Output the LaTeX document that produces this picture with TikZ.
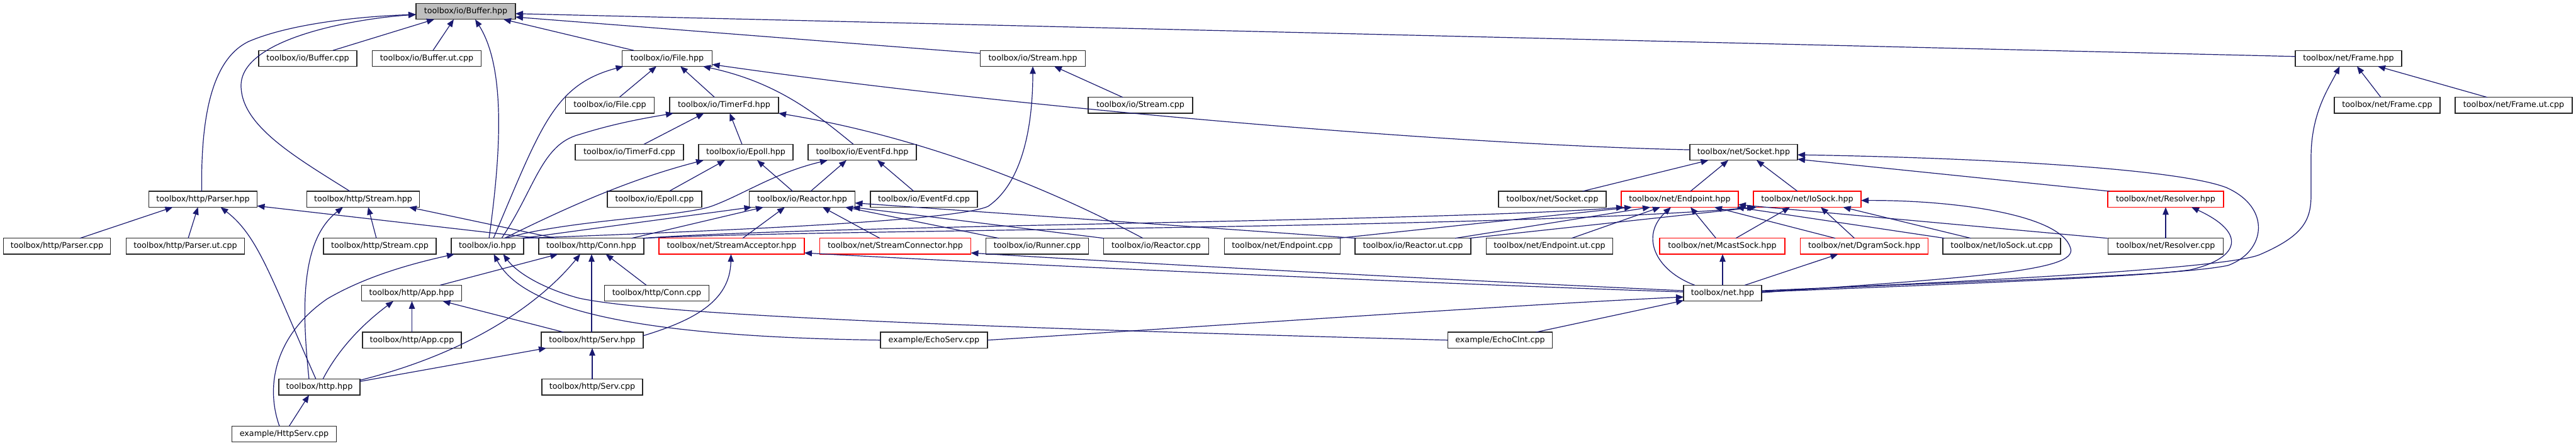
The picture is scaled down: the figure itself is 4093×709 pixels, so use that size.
\documentclass[tikz,border=0pt]{standalone}
\usepackage{fontspec}
\setmainfont{DejaVu Sans}
\usetikzlibrary{arrows.meta}
\definecolor{edgec}{HTML}{191970}
\definecolor{boxgray}{HTML}{BFBFBF}
\begin{document}
\begin{tikzpicture}[x=1pt,y=-1pt,
 filebox/.style={draw=black!85, line width=1.3pt, fill=white, minimum height=25.3pt, inner sep=0pt, outer sep=0pt, font=\fontsize{12.7}{15}\selectfont},
 redbox/.style={filebox, draw=red},
 graybox/.style={filebox, fill=boxgray},
 dep/.style={draw=edgec, line width=1.2pt, -{Triangle[length=12pt,width=9.5pt]}}]
\useasboundingbox[fill=white] (0,0) rectangle (4093,709);
% row 0
\node[graybox, minimum width=158pt] (buf) at (740,18.1) {toolbox/io/Buffer.hpp};
% row 1
\node[filebox, minimum width=156pt] (bufcpp) at (489,92.8) {toolbox/io/Buffer.cpp};
\node[filebox, minimum width=173pt] (bufut) at (678,92.8) {toolbox/io/Buffer.ut.cpp};
\node[filebox, minimum width=143pt] (filehpp) at (1060,92.8) {toolbox/io/File.hpp};
\node[filebox, minimum width=167pt] (iostreamhpp) at (1641,92.8) {toolbox/io/Stream.hpp};
\node[filebox, minimum width=169pt] (framehpp) at (3731.5,92.8) {toolbox/net/Frame.hpp};
% row 2
\node[filebox, minimum width=141pt] (filecpp) at (969,167.4) {toolbox/io/File.cpp};
\node[filebox, minimum width=173pt] (timerhpp) at (1150.5,167.4) {toolbox/io/TimerFd.hpp};
\node[filebox, minimum width=166pt] (iostreamcpp) at (1812,167.4) {toolbox/io/Stream.cpp};
\node[filebox, minimum width=168pt] (framecpp) at (3793,167.4) {toolbox/net/Frame.cpp};
\node[filebox, minimum width=186pt] (frameut) at (3994,167.4) {toolbox/net/Frame.ut.cpp};
% row 3
\node[filebox, minimum width=172pt] (timercpp) at (1000,242.1) {toolbox/io/TimerFd.cpp};
\node[filebox, minimum width=150pt] (epollhpp) at (1185,242.1) {toolbox/io/Epoll.hpp};
\node[filebox, minimum width=172pt] (eventfdhpp) at (1370,242.1) {toolbox/io/EventFd.hpp};
\node[filebox, minimum width=171pt] (sockethpp) at (2770.5,242.1) {toolbox/net/Socket.hpp};
% row 4
\node[filebox, minimum width=172pt] (parserhpp) at (322.5,316.7) {toolbox/http/Parser.hpp};
\node[filebox, minimum width=179.5pt] (httpstreamhpp) at (577,316.7) {toolbox/http/Stream.hpp};
\node[filebox, minimum width=150pt] (epollcpp) at (1040,316.7) {toolbox/io/Epoll.cpp};
\node[filebox, minimum width=168pt] (reactorhpp) at (1274.5,316.7) {toolbox/io/Reactor.hpp};
\node[filebox, minimum width=170pt] (eventfdcpp) at (1468,316.7) {toolbox/io/EventFd.cpp};
\node[filebox, minimum width=171pt] (socketcpp) at (2466.5,316.7) {toolbox/net/Socket.cpp};
\node[redbox, minimum width=186pt] (endpointhpp) at (2669,316.7) {toolbox/net/Endpoint.hpp};
\node[redbox, minimum width=171pt] (iosockhpp) at (2871.5,316.7) {toolbox/net/IoSock.hpp};
\node[redbox, minimum width=184pt] (resolverhpp) at (3441,316.7) {toolbox/net/Resolver.hpp};
% row 5
\node[filebox, minimum width=170pt] (parsercpp) at (90.5,391.4) {toolbox/http/Parser.cpp};
\node[filebox, minimum width=188pt] (parserut) at (294.5,391.4) {toolbox/http/Parser.ut.cpp};
\node[filebox, minimum width=179pt] (httpstreamcpp) at (603.5,391.4) {toolbox/http/Stream.cpp};
\node[filebox, minimum width=115pt] (iohpp) at (774.5,391.4) {toolbox/io.hpp};
\node[filebox, minimum width=167pt] (connhpp) at (939.5,391.4) {toolbox/http/Conn.hpp};
\node[redbox, minimum width=231pt] (acceptorhpp) at (1162.5,391.4) {toolbox/net/StreamAcceptor.hpp};
\node[redbox, minimum width=240pt] (connectorhpp) at (1422.5,391.4) {toolbox/net/StreamConnector.hpp};
\node[filebox, minimum width=162.5pt] (runnercpp) at (1648,391.4) {toolbox/io/Runner.cpp};
\node[filebox, minimum width=166.5pt] (reactorcpp) at (1837,391.4) {toolbox/io/Reactor.cpp};
\node[filebox, minimum width=184pt] (endpointcpp) at (2037.5,391.4) {toolbox/net/Endpoint.cpp};
\node[filebox, minimum width=184pt] (reactorut) at (2245,391.4) {toolbox/io/Reactor.ut.cpp};
\node[filebox, minimum width=201pt] (endpointut) at (2462,391.4) {toolbox/net/Endpoint.ut.cpp};
\node[redbox, minimum width=199pt] (mcasthpp) at (2736.5,391.4) {toolbox/net/McastSock.hpp};
\node[redbox, minimum width=202.5pt] (dgramhpp) at (2962,391.4) {toolbox/net/DgramSock.hpp};
\node[filebox, minimum width=187pt] (iosockut) at (3180.5,391.4) {toolbox/net/IoSock.ut.cpp};
\node[filebox, minimum width=183pt] (resolvercpp) at (3441,391.4) {toolbox/net/Resolver.cpp};
% row 6
\node[filebox, minimum width=158.5pt] (apphpp) at (654,466.1) {toolbox/http/App.hpp};
\node[filebox, minimum width=165.5pt] (conncpp) at (1043.5,466.1) {toolbox/http/Conn.cpp};
\node[filebox, minimum width=124pt] (nethpp) at (2737,466.1) {toolbox/net.hpp};
% row 7
\node[filebox, minimum width=157pt] (appcpp) at (654.5,540.7) {toolbox/http/App.cpp};
\node[filebox, minimum width=162pt] (servhpp) at (941,540.7) {toolbox/http/Serv.hpp};
\node[filebox, minimum width=170pt] (echoserv) at (1484,540.7) {example/EchoServ.cpp};
\node[filebox, minimum width=166.5pt] (echoclnt) at (2383.5,540.7) {example/EchoClnt.cpp};
% row 8
\node[filebox, minimum width=129pt] (httphpp) at (507.5,615.4) {toolbox/http.hpp};
\node[filebox, minimum width=160pt] (servcpp) at (941,615.4) {toolbox/http/Serv.cpp};
% row 9
\node[filebox, minimum width=166pt] (httpserv) at (451.5,690) {example/HttpServ.cpp};

% ---- edges into Buffer.hpp
\draw[dep] ([xshift=-2pt]parserhpp.north) .. controls (319,190) and (335,95) .. (395,66) .. controls (460,38) and (570,26) .. ([yshift=-5pt]buf.west);
\draw[dep] ([xshift=-21pt]httpstreamhpp.north) .. controls (470,250) and (383,200) .. (383,136) .. controls (383,62) and (560,30) .. ([yshift=-5pt]buf.west);
\draw[dep] ([xshift=40pt]bufcpp.north) -- ([xshift=-50pt]buf.south);
\draw[dep] ([xshift=10pt]bufut.north) -- ([xshift=-19pt]buf.south);
\draw[dep] ([xshift=2.5pt]iohpp.north) .. controls (795,250) and (805,110) .. ([xshift=15pt]buf.south);
\draw[dep] ([xshift=-53pt]filehpp.north) -- ([xshift=60pt]buf.south);
\draw[dep] ([yshift=8pt]iostreamhpp.west) -- ([yshift=-9pt]buf.east);
\draw[dep] ([yshift=3pt]framehpp.west) -- ([yshift=-3.6pt]buf.east);
% ---- File.hpp
\draw[dep] ([xshift=9.5pt]iohpp.north) .. controls (860,200) and (880,135) .. ([xshift=2pt]filehpp.south west);
\draw[dep] ([xshift=15pt]filecpp.north) -- ([xshift=-17pt]filehpp.south);
\draw[dep] ([xshift=-15pt]timerhpp.north) -- ([xshift=21pt]filehpp.south);
\draw[dep] ([xshift=-14pt]eventfdhpp.north) .. controls (1290,175) and (1230,130) .. ([xshift=57pt]filehpp.south);
\draw[dep] ([yshift=4pt]sockethpp.west) .. controls (2300,230) and (1600,170) .. ([yshift=3pt]filehpp.south east);
% ---- TimerFd.hpp
\draw[dep] ([xshift=22.5pt]iohpp.north) .. controls (850,300) and (860,230) .. (920,214) .. controls (980,195) and (1030,187) .. ([xshift=6pt]timerhpp.south west);
\draw[dep] ([xshift=23pt]timercpp.north) -- ([xshift=-32pt]timerhpp.south);
\draw[dep] ([xshift=-6pt]epollhpp.north) -- ([xshift=9pt]timerhpp.south);
\draw[dep] ([xshift=-21pt]reactorcpp.north) .. controls (1650,290) and (1450,215) .. (timerhpp.south east);
% ---- Epoll.hpp
\draw[dep] ([xshift=27pt]iohpp.north) .. controls (900,330) and (1000,285) .. ([xshift=8pt]epollhpp.south west);
\draw[dep] ([xshift=23pt]epollcpp.north) -- ([xshift=-33pt]epollhpp.south);
\draw[dep] ([xshift=-15pt]reactorhpp.north) -- ([xshift=18pt]epollhpp.south);
% ---- EventFd.hpp
\draw[dep] ([xshift=29pt]iohpp.north) .. controls (900,350) and (1080,345) .. (1130,328) .. controls (1180,310) and (1230,275) .. ([xshift=31pt]eventfdhpp.south west);
\draw[dep] ([xshift=13.5pt]reactorhpp.north) -- ([xshift=-25pt]eventfdhpp.south);
\draw[dep] ([xshift=-16pt]eventfdcpp.north) -- ([xshift=24pt]eventfdhpp.south);
% ---- Reactor.hpp
\draw[dep] ([xshift=-3pt]iohpp.north east) -- ([xshift=4pt]reactorhpp.south west);
\draw[dep] ([xshift=64pt]connhpp.north) -- ([xshift=-61.5pt]reactorhpp.south);
\draw[dep] ([xshift=17.5pt]acceptorhpp.north) -- ([xshift=-27.5pt]reactorhpp.south);
\draw[dep] ([xshift=-24.5pt]connectorhpp.north) -- ([xshift=32.5pt]reactorhpp.south);
\draw[dep] ([xshift=-61pt]runnercpp.north) -- ([xshift=68.5pt]reactorhpp.south);
\draw[dep] (reactorcpp.north west) -- ([xshift=-4pt]reactorhpp.south east);
\draw[dep] ([xshift=2pt]reactorut.north west) -- ([yshift=-6pt]reactorhpp.east);
% ---- io/Stream.hpp
\draw[dep] (iohpp.north east) .. controls (1200,365) and (1520,350) .. (1570,328) .. controls (1625,290) and (1641,200) .. (iostreamhpp.south);
\draw[dep] ([xshift=-28pt]iostreamcpp.north) -- ([xshift=34pt]iostreamhpp.south);
% ---- Socket.hpp
\draw[dep] ([xshift=48pt]socketcpp.north) -- ([xshift=-56pt]sockethpp.south);
\draw[dep] ([xshift=17pt]endpointhpp.north) -- ([xshift=-24.5pt]sockethpp.south);
\draw[dep] ([xshift=-15.5pt]iosockhpp.north) -- ([xshift=20.5pt]sockethpp.south);
\draw[dep] ([yshift=3pt]nethpp.east) .. controls (3150,445) and (3450,440) .. (3540,422) .. controls (3600,400) and (3610,330) .. (3537,298) .. controls (3450,265) and (3100,250) .. ([yshift=-4pt]sockethpp.east);
\draw[dep] ([xshift=-89pt]resolverhpp.north) -- ([yshift=-11pt]sockethpp.east);
% ---- Endpoint.hpp
\draw[dep] ([xshift=-2pt]connhpp.north east) .. controls (1300,358) and (2300,352) .. ([xshift=4pt]endpointhpp.south west);
\draw[dep] (connhpp.north east) .. controls (1300,364) and (2400,364) .. ([xshift=2pt]iosockhpp.south west);
\draw[dep] ([xshift=-4pt]endpointcpp.north east) -- ([xshift=-76pt]endpointhpp.south);
\draw[dep] ([xshift=67pt]reactorut.north) -- ([xshift=-47pt]endpointhpp.south);
\draw[dep] ([xshift=-3pt]reactorut.north east) -- ([xshift=5pt]iosockhpp.south west);
\draw[dep] ([xshift=35pt]endpointut.north) -- ([xshift=-31pt]endpointhpp.south);
\draw[dep] ([xshift=-44pt]nethpp.north) .. controls (2630,430) and (2605,375) .. ([xshift=-14pt]endpointhpp.south);
\draw[dep] ([xshift=-10pt]mcasthpp.north) -- ([xshift=17pt]endpointhpp.south);
\draw[dep] ([xshift=-46pt]dgramhpp.north) -- ([xshift=55pt]endpointhpp.south);
\draw[dep] ([xshift=3pt]iosockut.north west) -- ([xshift=-3pt]endpointhpp.south east);
\draw[dep] ([xshift=-1pt]resolvercpp.north west) -- ([yshift=4pt]endpointhpp.south east);
% ---- IoSock.hpp
\draw[dep] ([xshift=21.5pt]mcasthpp.north) -- ([xshift=-27.5pt]iosockhpp.south);
\draw[dep] ([xshift=-15.5pt]dgramhpp.north) -- ([xshift=21.5pt]iosockhpp.south);
\draw[dep] ([xshift=-49pt]iosockut.north) -- ([xshift=57pt]iosockhpp.south);
\draw[dep] ([yshift=1pt]nethpp.east) .. controls (3150,440) and (3300,430) .. (3290,395) .. controls (3275,340) and (3100,318) .. ([yshift=-2pt]iosockhpp.east);
% ---- Resolver.hpp
\draw[dep] (resolvercpp.north) -- (resolverhpp.south);
\draw[dep] ([yshift=2pt]nethpp.east) .. controls (3150,450) and (3400,440) .. (3480,429) .. controls (3560,410) and (3570,370) .. ([xshift=41pt]resolverhpp.south);
% ---- Frame.hpp
\draw[dep] ([yshift=4pt]nethpp.east) .. controls (3200,445) and (3540,425) .. (3590,405) .. controls (3660,375) and (3672,350) .. (3672,310) -- (3672,250) .. controls (3672,180) and (3700,140) .. ([xshift=-14pt]framehpp.south);
\draw[dep] ([xshift=-10pt]framecpp.north) -- ([xshift=13.5pt]framehpp.south);
\draw[dep] ([xshift=-42pt]frameut.north) -- ([xshift=46.5pt]framehpp.south);
% ---- McastSock / DgramSock
\draw[dep] (nethpp.north) -- ([xshift=0.5pt]mcasthpp.south);
\draw[dep] ([xshift=35pt]nethpp.north) -- ([xshift=-41.5pt]dgramhpp.south);
% ---- StreamAcceptor / StreamConnector
\draw[dep] ([yshift=2pt]nethpp.west) .. controls (2300,452) and (1600,420) .. ([yshift=2pt]acceptorhpp.south east);
\draw[dep] ([yshift=4pt]nethpp.west) .. controls (2300,445) and (1800,418) .. ([yshift=2pt]connectorhpp.south east);
\draw[dep] ([yshift=7pt]servhpp.east) .. controls (1100,510) and (1160,480) .. ([xshift=-1pt]acceptorhpp.south);
% ---- net.hpp
\draw[dep] (echoserv.east) .. controls (1900,520) and (2400,485) .. ([yshift=-6pt]nethpp.west);
\draw[dep] ([xshift=57pt]echoclnt.north) -- ([yshift=1pt]nethpp.south west);
% ---- io.hpp
\draw[dep] (echoserv.west) .. controls (1000,535) and (830,490) .. ([xshift=10pt]iohpp.south);
\draw[dep] (echoclnt.west) .. controls (1600,522) and (1050,502) .. (920,474) .. controls (860,458) and (820,432) .. ([xshift=25pt]iohpp.south);
\draw[dep] ([xshift=-7.5pt]httpserv.north) .. controls (420,610) and (440,530) .. (520,475) .. controls (580,440) and (650,420) .. ([xshift=5pt]iohpp.south west);
% ---- Conn.hpp
\draw[dep] (connhpp.north west) -- ([yshift=2pt]parserhpp.south east);
\draw[dep] ([xshift=27pt]connhpp.north west) -- ([xshift=-17pt]httpstreamhpp.south east);
\draw[dep] ([xshift=45pt]apphpp.north) -- ([xshift=-53pt]connhpp.south);
\draw[dep] ([yshift=11pt]httphpp.east) .. controls (750,560) and (860,480) .. ([xshift=-17.5pt]connhpp.south);
\draw[dep] ([xshift=-1pt]servhpp.north) -- ([xshift=0.5pt]connhpp.south);
\draw[dep] ([xshift=-16.5pt]conncpp.north) -- ([xshift=23pt]connhpp.south);
% ---- http/Stream.hpp, Parser.hpp
\draw[dep] ([xshift=-16.5pt]httphpp.north) .. controls (478,480) and (480,380) .. ([xshift=-32pt]httpstreamhpp.south);
\draw[dep] ([xshift=-5.5pt]httpstreamcpp.north) -- ([xshift=8pt]httpstreamhpp.south);
\draw[dep] ([xshift=36.5pt]parsercpp.north) -- ([xshift=-48pt]parserhpp.south);
\draw[dep] ([xshift=4.5pt]parserut.north) -- ([xshift=-8pt]parserhpp.south);
\draw[dep] ([xshift=-5.5pt]httphpp.north) .. controls (430,440) and (410,375) .. ([xshift=28pt]parserhpp.south);
% ---- App.hpp, Serv.hpp, http.hpp
\draw[dep] ([xshift=5.5pt]httphpp.north) .. controls (535,560) and (570,520) .. ([xshift=-29pt]apphpp.south);
\draw[dep] (appcpp.north) -- ([xshift=0.5pt]apphpp.south);
\draw[dep] ([xshift=-45.5pt]servhpp.north) -- ([xshift=49.5pt]apphpp.south);
\draw[dep] (servcpp.north) -- (servhpp.south);
\draw[dep] ([yshift=9pt]httphpp.east) -- ([xshift=8pt]servhpp.south west);
\draw[dep] ([xshift=8pt]httpserv.north) -- ([xshift=-16.5pt]httphpp.south);
\end{tikzpicture}
\end{document}
